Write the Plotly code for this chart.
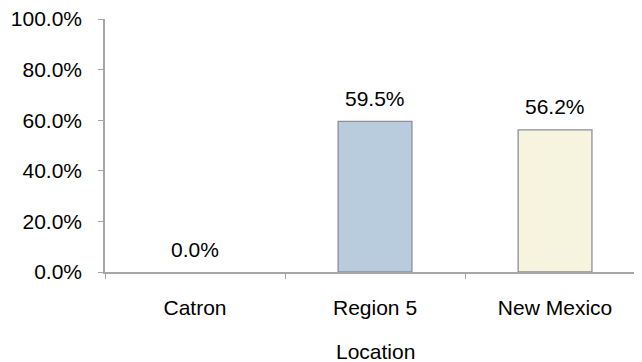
import plotly.graph_objects as go

categories = ["Catron", "Region 5", "New Mexico"]
values = [0.0, 0.595, 0.562]
value_labels = ["0.0%", "59.5%", "56.2%"]
bar_colors = ["#B9CCDD", "#B9CCDD", "#F6F4DF"]
y_ticks = [0, 0.2, 0.4, 0.6, 0.8, 1.0]
y_tick_labels = ["0.0%", "20.0%", "40.0%", "60.0%", "80.0%", "100.0%"]
axis_title = "Location"

FONT = "Liberation Sans, Arial, sans-serif"
TXT = "#000000"
FS = 21

fig = go.Figure()
fig.add_trace(go.Bar(
    x=categories, y=values,
    width=0.41,
    marker=dict(color=bar_colors, line=dict(color="#8E8E9C", width=[0, 1.3, 1.3])),
    hoverinfo="skip",
))

for c, v, t in zip(categories, values, value_labels):
    fig.add_annotation(x=c, y=v, text=t, showarrow=False,
                       yanchor="middle", yshift=23,
                       font=dict(family=FONT, size=FS, color=TXT))

fig.add_annotation(x=0.5028, y=-0.316, xref="paper", yref="paper",
                   text=axis_title, showarrow=False, yanchor="middle",
                   font=dict(family=FONT, size=FS, color=TXT))

fig.update_layout(
    width=634, height=354,
    margin=dict(l=97, r=0, t=11, b=90),
    paper_bgcolor="white", plot_bgcolor="white",
    showlegend=False,
    font=dict(family=FONT, size=FS, color=TXT),
)
fig.update_xaxes(
    type="category", range=[-0.5, 2.483],
    showline=True, linecolor="#A6A6A6", linewidth=1.5,
    ticks="outside", tickson="boundaries", ticklen=5, tickcolor="#A6A6A6",
    showgrid=False, zeroline=False,
    ticklabelstandoff=16,
    tickfont=dict(family=FONT, size=FS, color=TXT),
)
fig.update_yaxes(
    range=[0, 1.0], tickvals=y_ticks, ticktext=y_tick_labels,
    showline=True, linecolor="#A6A6A6", linewidth=1.5,
    ticks="outside", ticklen=5, tickcolor="#A6A6A6",
    showgrid=False, zeroline=False,
    ticklabelstandoff=12, ticklabeloverflow="allow",
    tickfont=dict(family=FONT, size=FS, color=TXT),
)

fig.write_html("out.html")
